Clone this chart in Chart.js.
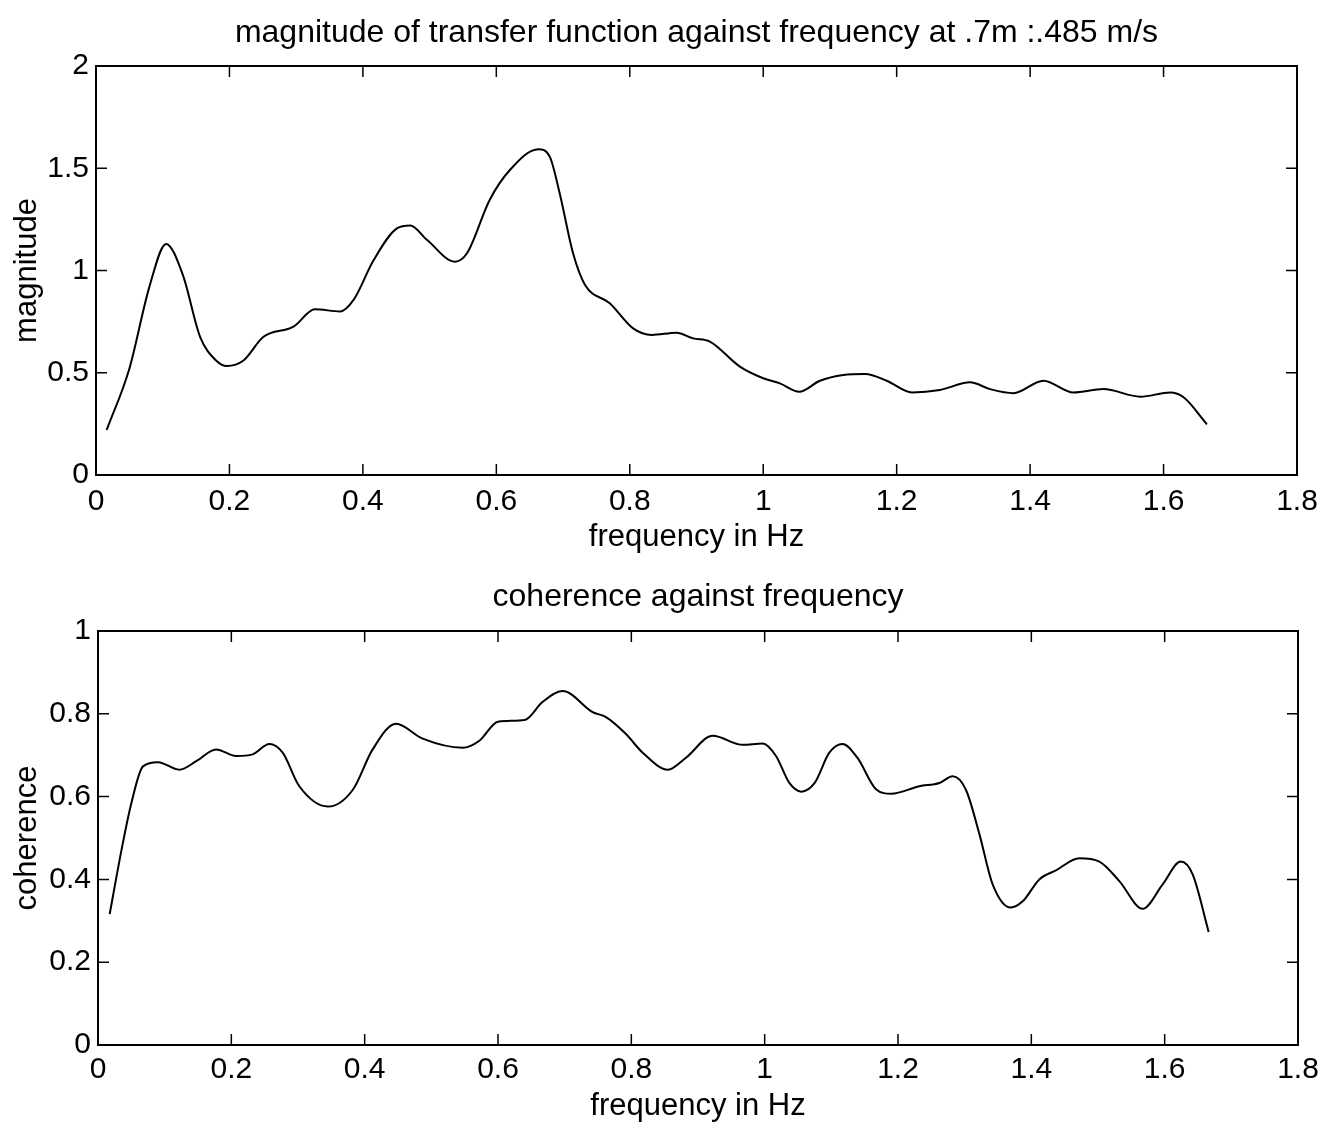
<!DOCTYPE html>
<html>
<head>
<meta charset="utf-8">
<script src="https://cdn.jsdelivr.net/npm/chart.js@4/dist/chart.umd.min.js"></script>
<style>
  body { margin: 0; background: #fff; }
  #wrap { position: relative; width: 1333px; height: 1125px; }
  canvas { position: absolute; left: 0; }
  #magChart { top: 0; }
  #cohChart { top: 560px; }
</style>
</head>
<body>
<div id="wrap">
  <canvas id="magChart" width="1333" height="560"></canvas>
  <canvas id="cohChart" width="1333" height="565"></canvas>
</div>
<script>
// frequency ticks shared by both plots
var freqTicks = [0, 0.2, 0.4, 0.6, 0.8, 1, 1.2, 1.4, 1.6, 1.8];
var magTicks = [0, 0.5, 1, 1.5, 2];
var cohTicks = [0, 0.2, 0.4, 0.6, 0.8, 1];

// magnitude of transfer function
var magFreq = [0.016, 0.05, 0.08, 0.105, 0.13, 0.156, 0.18, 0.196, 0.221, 0.251, 0.296, 0.328, 0.366, 0.386,
  0.416, 0.451, 0.471, 0.496, 0.538, 0.556, 0.59, 0.62, 0.663, 0.68, 0.695, 0.715, 0.733, 0.77, 0.805,
  0.833, 0.87, 0.895, 0.92, 0.965, 1.0, 1.025, 1.054, 1.085, 1.12, 1.153, 1.185, 1.223, 1.265, 1.31,
  1.34, 1.375, 1.42, 1.465, 1.51, 1.565, 1.61, 1.63, 1.665];
var magnitude = [0.22, 0.52, 0.92, 1.13, 0.98, 0.676, 0.56, 0.533, 0.56, 0.676, 0.725, 0.81, 0.80, 0.856,
  1.05, 1.206, 1.22, 1.15, 1.043, 1.084, 1.345, 1.49, 1.593, 1.557, 1.377, 1.084, 0.929, 0.84, 0.717,
  0.685, 0.696, 0.668, 0.652, 0.53, 0.473, 0.448, 0.407, 0.461, 0.489, 0.494, 0.461, 0.404, 0.416, 0.453,
  0.42, 0.4, 0.461, 0.403, 0.42, 0.383, 0.403, 0.38, 0.248];

// coherence
var cohFreq = [0.0175, 0.035, 0.05, 0.0675, 0.09, 0.122, 0.148, 0.177, 0.207, 0.232, 0.257, 0.277, 0.302,
  0.345, 0.382, 0.412, 0.447, 0.487, 0.547, 0.572, 0.6, 0.64, 0.667, 0.697, 0.742, 0.762, 0.792, 0.817,
  0.855, 0.882, 0.922, 0.967, 0.997, 1.017, 1.037, 1.055, 1.075, 1.097, 1.117, 1.139, 1.167, 1.19, 1.232,
  1.262, 1.282, 1.302, 1.322, 1.342, 1.369, 1.387, 1.412, 1.437, 1.472, 1.502, 1.532, 1.567, 1.597,
  1.624, 1.642, 1.666];
var coherence = [0.316, 0.469, 0.584, 0.673, 0.683, 0.665, 0.686, 0.714, 0.698, 0.702, 0.727, 0.706, 0.625,
  0.576, 0.616, 0.714, 0.776, 0.74, 0.718, 0.735, 0.781, 0.785, 0.829, 0.855, 0.804, 0.792, 0.751, 0.706,
  0.665, 0.694, 0.747, 0.725, 0.728, 0.698, 0.633, 0.612, 0.633, 0.706, 0.727, 0.694, 0.618, 0.607, 0.625,
  0.633, 0.649, 0.616, 0.51, 0.388, 0.332, 0.347, 0.4, 0.422, 0.451, 0.443, 0.396, 0.329, 0.388,
  0.443, 0.412, 0.273];

var FONT = 'Liberation Sans, Arial, Helvetica, sans-serif';
var FS = 30;   // tick labels
var FT = 32;   // titles

function toPoints(xs, ys) {
  return xs.map(function (x, i) { return { x: x, y: ys[i] }; });
}

function fmt(v) {
  return String(Math.round(v * 10) / 10);
}

// matlab style box with ticks pointing inwards on all four sides
var boxTicks = {
  id: 'boxTicks',
  afterDraw: function (chart) {
    var ctx = chart.ctx;
    var a = chart.chartArea;
    var len = 11;
    ctx.save();
    ctx.strokeStyle = '#000';
    ctx.lineWidth = 2;
    ctx.strokeRect(a.left, a.top, a.right - a.left, a.bottom - a.top);
    ctx.lineWidth = 1.5;
    ctx.beginPath();
    chart.scales.x.ticks.forEach(function (t) {
      var px = chart.scales.x.getPixelForValue(t.value);
      ctx.moveTo(px, a.bottom); ctx.lineTo(px, a.bottom - len);
      ctx.moveTo(px, a.top); ctx.lineTo(px, a.top + len);
    });
    chart.scales.y.ticks.forEach(function (t) {
      var py = chart.scales.y.getPixelForValue(t.value);
      ctx.moveTo(a.left, py); ctx.lineTo(a.left + len, py);
      ctx.moveTo(a.right, py); ctx.lineTo(a.right - len, py);
    });
    ctx.stroke();
    ctx.restore();
  }
};

function makeChart(id, pts, yTicks, yLabel, title, sizes) {
  return new Chart(document.getElementById(id), {
    type: 'line',
    data: {
      datasets: [{
        data: pts,
        borderColor: '#000',
        borderWidth: 2,
        pointRadius: 0,
        cubicInterpolationMode: 'monotone',
        fill: false
      }]
    },
    options: {
      responsive: false,
      animation: false,
      layout: { padding: { left: 0, right: sizes.right, top: 0, bottom: 0 } },
      plugins: {
        legend: { display: false },
        tooltip: { enabled: false },
        title: {
          display: true,
          fullSize: false,   // centre over the plot box like matlab
          text: title,
          color: '#000',
          font: { family: FONT, size: FT, weight: 'normal' },
          padding: { top: sizes.titleTop, bottom: sizes.titleBottom }
        }
      },
      scales: {
        x: {
          type: 'linear',
          min: 0,
          max: 1.8,
          afterBuildTicks: function (s) { s.ticks = freqTicks.map(function (v) { return { value: v }; }); },
          afterFit: function (s) { s.height = sizes.xHeight; },
          grid: { display: false, drawTicks: false },
          border: { display: false },
          ticks: {
            color: '#000',
            padding: sizes.xPad,
            maxRotation: 0,
            autoSkip: false,
            font: { family: FONT, size: FS },
            callback: function (v) { return fmt(v); }
          },
          title: {
            display: true,
            text: 'frequency in Hz',
            color: '#000',
            font: { family: FONT, size: 31 },
            padding: { top: 0, bottom: sizes.xTitleBottom }
          }
        },
        y: {
          min: yTicks[0],
          max: yTicks[yTicks.length - 1],
          afterBuildTicks: function (s) { s.ticks = yTicks.map(function (v) { return { value: v }; }); },
          afterFit: function (s) { s.width = sizes.yWidth; },
          grid: { display: false, drawTicks: false },
          border: { display: false },
          ticks: {
            color: '#000',
            padding: 7,
            autoSkip: false,
            font: { family: FONT, size: FS },
            callback: function (v) { return fmt(v); }
          },
          title: {
            display: true,
            text: yLabel,
            color: '#000',
            font: { family: FONT, size: 31 },
            padding: { top: 9, bottom: 0 }
          }
        }
      }
    },
    plugins: [boxTicks]
  });
}

makeChart('magChart', toPoints(magFreq, magnitude), magTicks, 'magnitude',
  'magnitude of transfer function against frequency at .7m :.485 m/s',
  { right: 36, titleTop: 14, titleBottom: 13.6, xHeight: 85, xPad: 9, xTitleBottom: 4, yWidth: 96 });

makeChart('cohChart', toPoints(cohFreq, coherence), cohTicks, 'coherence',
  'coherence against frequency',
  { right: 35, titleTop: 18, titleBottom: 14.6, xHeight: 80, xPad: 7, xTitleBottom: 0, yWidth: 98 });
</script>
</body>
</html>
